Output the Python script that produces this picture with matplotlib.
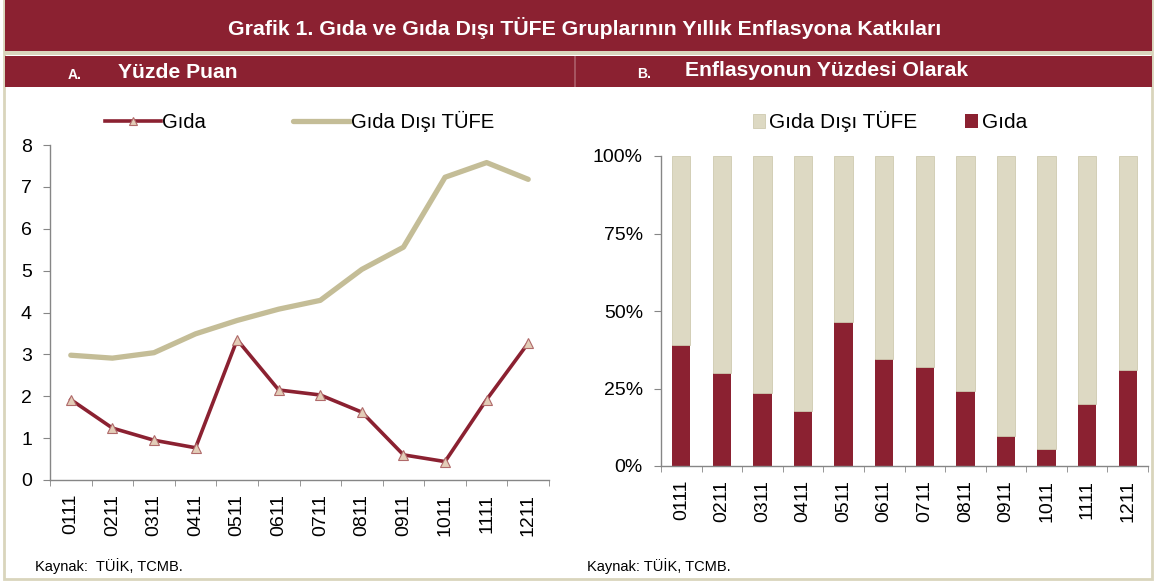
import matplotlib
matplotlib.use("Agg")
import matplotlib.pyplot as plt
from matplotlib.patches import Rectangle
from matplotlib.lines import Line2D
import numpy as np

plt.rcParams['font.family'] = ['Liberation Sans', 'DejaVu Sans']

# data
months = ['0111', '0211', '0311', '0411', '0511', '0611',
          '0711', '0811', '0911', '1011', '1111', '1211']
gida = [1.92, 1.24, 0.95, 0.77, 3.35, 2.15, 2.03, 1.62, 0.60, 0.44, 1.92, 3.27]
gida_disi = [2.98, 2.91, 3.04, 3.49, 3.81, 4.08, 4.29, 5.03, 5.56, 7.23, 7.58, 7.18]
gida_pay = [39.0, 30.0, 23.5, 17.7, 46.5, 34.5, 32.0, 24.2, 9.7, 5.5, 20.0, 31.0]
disi_pay = [100 - v for v in gida_pay]

RED = '#8B2131'
BEIGE_LINE = '#C4BD97'
BEIGE_BAR = '#DDD9C3'
BORDER = '#D9D5BC'
AXC = '#868686'

W, H = 1154, 583
fig = plt.figure(figsize=(W / 100, H / 100), dpi=100)


def rect(x0, y0, x1, y1, **kw):
    # pixel coords (top-left origin) -> figure fraction
    fig.patches.append(Rectangle((x0 / W, 1 - y1 / H), (x1 - x0) / W, (y1 - y0) / H,
                                 transform=fig.transFigure, **kw))


def fx(x):
    return x / W


def fy(y):
    return 1 - y / H


# frame and header bands
rect(4, 0, 1152, 579, facecolor='none', edgecolor=BORDER, linewidth=2)
rect(5, 0, 1152, 51, facecolor=RED, edgecolor='none')
rect(5, 51, 1152, 55, facecolor=BORDER, edgecolor='none')
rect(5, 56, 1152, 87, facecolor=RED, edgecolor='none')
rect(574, 56, 576, 87, facecolor='#A65460', edgecolor='none')

fig.text(fx(585), fy(28), 'Grafik 1. Gıda ve Gıda Dışı TÜFE Gruplarının Yıllık Enflasyona Katkıları',
         color='white', fontsize=15.3, fontweight='bold', ha='center', va='center')
fig.text(fx(68), fy(75), 'A.', color='white', fontsize=10, fontweight='bold', va='center')
fig.text(fx(118), fy(72), 'Yüzde Puan', color='white', fontsize=15.2, fontweight='bold', va='center')
fig.text(fx(637), fy(74), 'B.', color='white', fontsize=10, fontweight='bold', va='center')
fig.text(fx(685), fy(71), 'Enflasyonun Yüzdesi Olarak', color='white', fontsize=15.2,
         fontweight='bold', va='center')
fig.text(fx(35), fy(566), 'Kaynak:  TÜİK, TCMB.', fontsize=10.5, va='center')
fig.text(fx(587), fy(566), 'Kaynak: TÜİK, TCMB.', fontsize=10.5, va='center')

x = np.arange(len(months))


def style_axis(ax):
    for s in ['top', 'right']:
        ax.spines[s].set_visible(False)
    for s in ['left', 'bottom']:
        ax.spines[s].set_color(AXC)
        ax.spines[s].set_linewidth(1)
    ax.set_xlim(-0.5, len(months) - 0.5)
    ax.set_xticks(x)
    ax.set_xticklabels(months, rotation=90, fontsize=14)
    ax.set_xticks(np.arange(-0.5, len(months)), minor=True)
    ax.tick_params(axis='x', which='major', length=0, pad=10)
    ax.tick_params(axis='x', which='minor', length=4, color=AXC)
    ax.tick_params(axis='y', length=5, color=AXC, labelsize=14, pad=8)


# panel A: lines
axA = fig.add_axes([fx(50), fy(480), (549 - 50) / W, (480 - 145) / H])
axA.plot(x, gida_disi, color=BEIGE_LINE, linewidth=3.8, solid_capstyle='round',
         label='Gıda Dışı TÜFE', zorder=2)
axA.plot(x, gida, color=RED, linewidth=2.6, marker='^', markersize=7,
         markerfacecolor='#E3CDB8', markeredgecolor='#B06A6A', markeredgewidth=0.8,
         label='Gıda', zorder=3)
axA.set_ylim(0, 8)
axA.set_yticks(range(0, 9))
style_axis(axA)
hA = [Line2D([], [], color=RED, lw=2.6, marker='^', markersize=6,
             markerfacecolor='#E3CDB8', markeredgecolor='#B06A6A', markeredgewidth=0.8),
      Line2D([], [], color=BEIGE_LINE, lw=3.8, solid_capstyle='round')]
axA.legend(hA, ['Gıda', 'Gıda Dışı TÜFE'], loc='center', bbox_to_anchor=(0.5, 1.07),
           ncol=2, frameon=False, fontsize=14.6, columnspacing=4.3, handlelength=2.8,
           handletextpad=0.05)

# panel B: stacked bars
axB = fig.add_axes([fx(661), fy(466), (1148 - 661) / W, (466 - 156) / H])
b1 = axB.bar(x, gida_pay, width=0.45, color=RED, label='Gıda', zorder=2)
b2 = axB.bar(x, disi_pay, width=0.45, bottom=gida_pay, color=BEIGE_BAR,
             edgecolor='#CFCAB0', linewidth=0.6, label='Gıda Dışı TÜFE', zorder=2)
axB.set_ylim(0, 100)
axB.set_yticks([0, 25, 50, 75, 100])
axB.set_yticklabels(['0%', '25%', '50%', '75%', '100%'])
style_axis(axB)
axB.legend([b2, b1], ['Gıda Dışı TÜFE', 'Gıda'], loc='center', bbox_to_anchor=(0.47, 1.11),
           ncol=2, frameon=False, fontsize=15, columnspacing=2.3, handlelength=0.6,
           handleheight=0.6, handletextpad=0.2)

fig.savefig('out.png', dpi=100)
